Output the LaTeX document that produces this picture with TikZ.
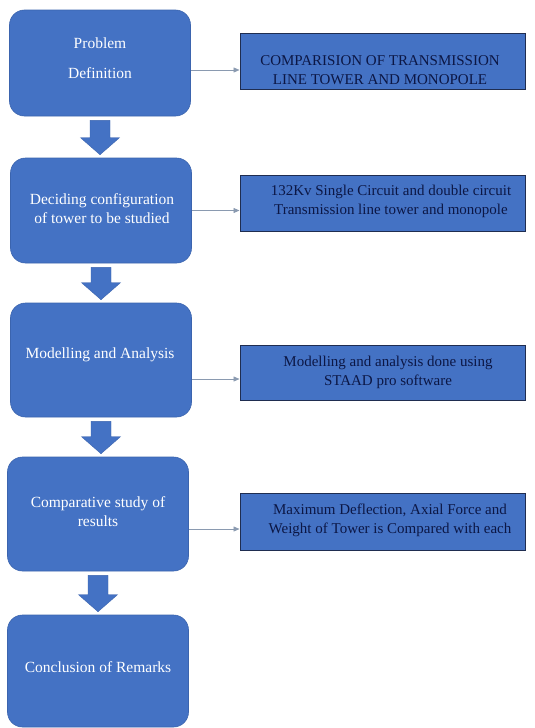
\documentclass[tikz,border=0pt]{standalone}
\usepackage{fontspec}
\setmainfont{Liberation Serif}
\usetikzlibrary{arrows.meta,calc}
\definecolor{boxblue}{HTML}{4472C4}
\definecolor{boxedge}{HTML}{3B64AE}
\definecolor{navyedge}{HTML}{1F2D50}
\definecolor{navytext}{HTML}{0C1745}
\definecolor{conngray}{HTML}{8A9AB0}
\newcommand{\flowarrow}[2]{%
  \filldraw[barrow]
    ($(#1.south)+(-10,4)$) -- ($(#1.south)+(10,4)$)
    -- ($(#1.south |- #2.north)+(10,-20)$) -- ($(#1.south |- #2.north)+(19.5,-20)$)
    -- ($(#1.south |- #2.north)+(0,-3)$)
    -- ($(#1.south |- #2.north)+(-19.5,-20)$) -- ($(#1.south |- #2.north)+(-10,-20)$)
    -- cycle;}
\begin{document}
\begin{tikzpicture}[x=1pt,y=-1pt,
  lbox/.style={draw=boxedge,line width=0.6pt,fill=boxblue,rounded corners=15pt,minimum width=181pt,inner sep=0pt},
  ltext/.style={text=white,font=\fontsize{15.5}{19}\selectfont,align=center,inner sep=0pt},
  rbox/.style={draw=navyedge,line width=1pt,fill=boxblue,minimum width=285pt,inner sep=0pt},
  rtext/.style={text=navytext,font=\fontsize{15}{19.5}\selectfont,align=center,inner sep=0pt},
  conn/.style={draw=conngray,line width=0.6pt,-{Triangle[length=6pt,width=5pt]}},
  barrow/.style={fill=boxblue,draw=boxedge,line width=0.4pt}]
\useasboundingbox (0,0) rectangle (535,728);
\fill[white] (0,0) rectangle (535,728);

% left process boxes
\node[lbox,minimum height=106pt] (b1) at (100,63) {};
\node[lbox,minimum height=105pt] (b2) at (101,210.5) {};
\node[lbox,minimum height=114pt] (b3) at (101,360) {};
\node[lbox,minimum height=114pt] (b4) at (98,514) {};
\node[lbox,minimum height=112pt] (b5) at (98,671) {};

\node[ltext] (t1) at (100,58) {Problem\\[11pt]Definition};
\node[ltext] (t2) at (102,209) {Deciding configuration\\of tower to be studied};
\node[ltext] (t3) at (100,355) {Modelling and Analysis};
\node[ltext] (t4) at (98,512) {Comparative study of\\results};
\node[ltext] (t5) at (98,667) {Conclusion of Remarks};

% right description boxes
\node[rbox,minimum height=56pt] (r1) at (382.5,61) {};
\node[rbox,minimum height=56pt] (r2) at (382.5,203) {};
\node[rbox,minimum height=55pt] (r3) at (382.5,372.5) {};
\node[rbox,minimum height=57pt] (r4) at (382.5,521.5) {};

\node[rtext] (s1) at (380,70) {COMPARISION OF TRANSMISSION\\LINE TOWER AND MONOPOLE};
\node[rtext] (s2) at (391,201.5) {132Kv Single Circuit and double circuit\\Transmission line tower and monopole};
\node[rtext] (s3) at (388,372.5) {Modelling and analysis done using\\STAAD pro software};
\node[rtext] (s4) at (390,520.5) {Maximum Deflection, Axial Force and\\Weight of Tower is Compared with each};

% connectors
\draw[conn] ([yshift=-7pt]b1.east) -- ([yshift=-7pt]b1.east -| r1.west);
\draw[conn] (b2.east) -- (b2.east -| r2.west);
\draw[conn] ([yshift=-19pt]b3.east) -- ([yshift=-19pt]b3.east -| r3.west);
\draw[conn] ([yshift=-15pt]b4.east) -- ([yshift=-15pt]b4.east -| r4.west);

% block arrows
\flowarrow{b1}{b2}
\flowarrow{b2}{b3}
\flowarrow{b3}{b4}
\flowarrow{b4}{b5}
\end{tikzpicture}
\end{document}
